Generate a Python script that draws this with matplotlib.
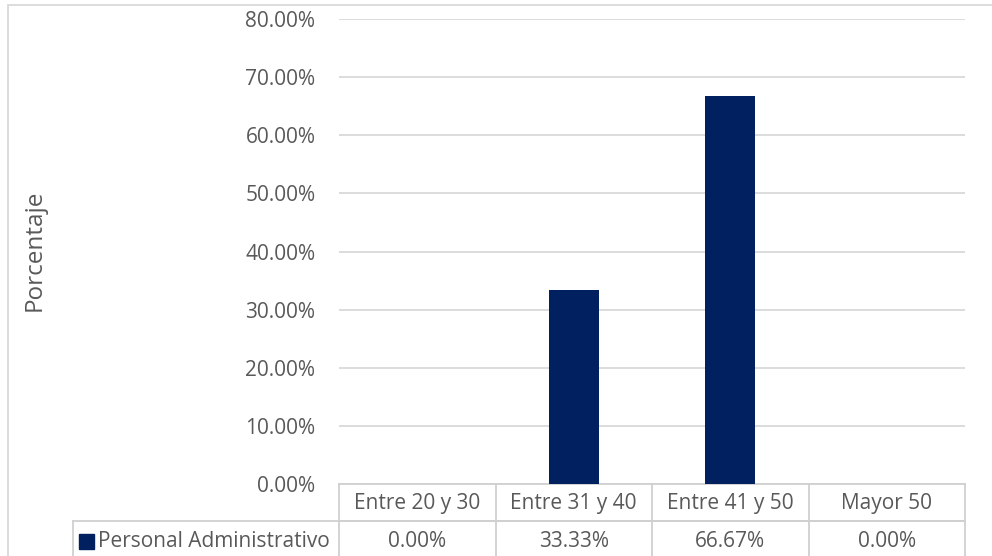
import numpy as np
import matplotlib.pyplot as plt
from matplotlib.patches import Rectangle
from matplotlib.transforms import blended_transform_factory

plt.rcParams['font.family'] = ['Open Sans', 'DejaVu Sans']

categories = ['Entre 20 y 30', 'Entre 31 y 40', 'Entre 41 y 50', 'Mayor 50']
series_name = 'Personal Administrativo'
values = [0.0, 33.33, 66.67, 0.0]
yticks = [0, 10, 20, 30, 40, 50, 60, 70, 80]

bar_color = '#002060'
text_color = '#595959'
grid_color = '#d9d9d9'
line_color = '#d0d0d0'

fig = plt.figure(figsize=(9.92, 5.56), dpi=100)
ax = fig.add_axes([339/992, 1-484/556, (965-339)/992, (484-19)/556])

x = np.arange(len(categories))
ax.bar(x, values, width=0.32, color=bar_color, zorder=3)

ax.set_xlim(-0.5, len(categories)-0.5)
ax.set_ylim(0, 80)
ax.set_yticks(yticks)
ax.set_yticklabels(['%.2f%%' % v for v in yticks], fontsize=15, color=text_color)
ax.tick_params(axis='y', length=0, pad=17)
ax.set_xticks([])
ax.grid(axis='y', color=grid_color, linewidth=1.3, zorder=0)
for s in ['top', 'right', 'left']:
    ax.spines[s].set_visible(False)
ax.spines['bottom'].set_color(line_color)
ax.spines['bottom'].set_linewidth(1.3)

fig.text(35/992, 1-250/556, 'Porcentaje', rotation=90, ha='center', va='center',
         fontsize=17.5, color=text_color)

# data table below the plot
tr = blended_transform_factory(ax.transData, ax.transAxes)
row_h = 37/465
label_left = -0.5 - (339-73)/156.5
bottom = -2.2*row_h
kw = dict(transform=tr, color=line_color, lw=1.3, clip_on=False)
ax.plot([-0.5, 3.5], [-row_h, -row_h], **kw)
ax.plot([label_left, 3.5], [-row_h, -row_h], **kw)
for b in np.arange(-0.5, len(categories)):
    ax.plot([b, b], [0, bottom], **kw)
ax.plot([label_left, label_left], [-row_h, bottom], **kw)

for xi, cat, v in zip(x, categories, values):
    ax.text(xi, -0.52*row_h, cat, transform=tr, ha='center', va='center',
            fontsize=15, color=text_color)
    ax.text(xi, -1.55*row_h, '%.2f%%' % v, transform=tr, ha='center', va='center',
            fontsize=15, color=text_color)

key_x = label_left + 6/156.5
ax.add_patch(Rectangle((key_x, -1.55*row_h - 7.5/465), 15/156.5, 15/465, transform=tr,
                       color=bar_color, clip_on=False))
ax.text(key_x + 19/156.5, -1.55*row_h, series_name, transform=tr, ha='left', va='center',
        fontsize=15, color=text_color)

# chart area border
fig.add_artist(Rectangle((8/992, -0.1), 1.1, 1-5/556+0.1, transform=fig.transFigure,
                         fill=False, edgecolor=grid_color, lw=1.3))

plt.savefig('out.png', dpi=100)
